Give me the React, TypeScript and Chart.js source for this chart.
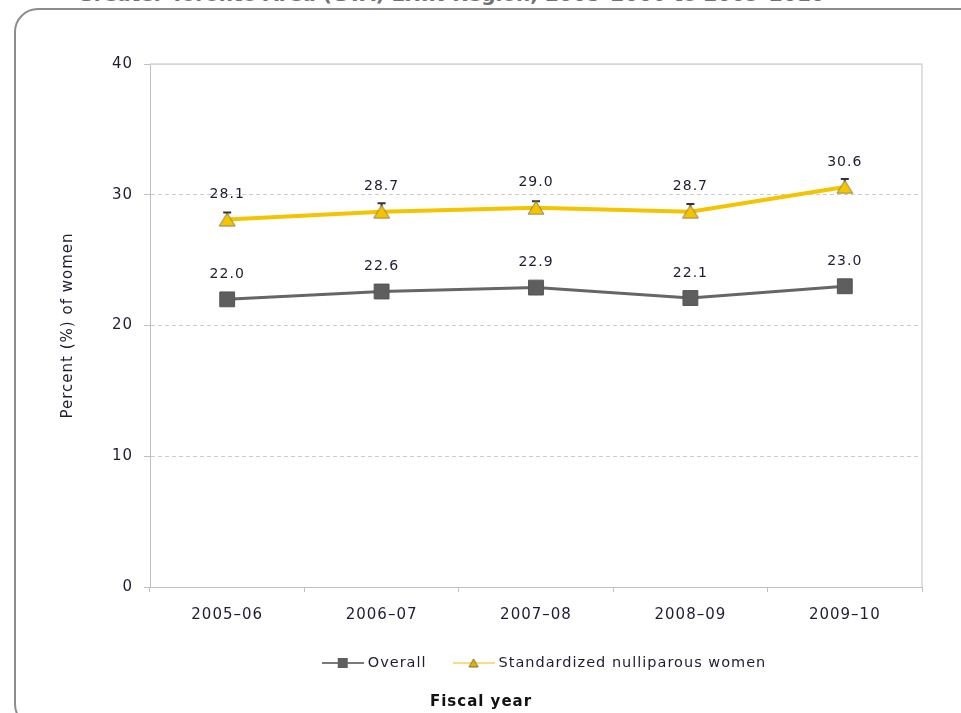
import React, { useEffect, useRef } from 'react';
import { Chart, registerables } from 'chart.js';

Chart.register(...registerables);

const chartTitle = 'Greater Toronto Area (GTA) LHIN Region, 2005–2006 to 2009–2010';
const categories = ['2005–06', '2006–07', '2007–08', '2008–09', '2009–10'];
const overall = [22.0, 22.6, 22.9, 22.1, 23.0];
const standardized = [28.1, 28.7, 29.0, 28.7, 30.6];
const standardizedError = [0.55, 0.65, 0.5, 0.6, 0.6];
const yTicks = [0, 10, 20, 30, 40];
const seriesNames = ['Overall', 'Standardized nulliparous women'];
const xTitle = 'Fiscal year';
const yTitle = 'Percent (%) of women';

const FONT = '"DejaVu Sans", Verdana, sans-serif';
const GREY = '#5e5e5e';
const YELLOW = '#f5c400';
const TEXT = '#1e1e32';

function makeTriangle(w: number, h: number, fill: string, stroke: string) {
  const c = document.createElement('canvas');
  c.width = w + 2;
  c.height = h + 2;
  const g = c.getContext('2d')!;
  g.beginPath();
  g.moveTo(1 + w / 2, 1);
  g.lineTo(1 + w, 1 + h);
  g.lineTo(1, 1 + h);
  g.closePath();
  g.fillStyle = fill;
  g.fill();
  g.strokeStyle = stroke;
  g.lineWidth = 1;
  g.stroke();
  return c;
}

function makeLegendIcon(kind: 'square' | 'triangle') {
  const c = document.createElement('canvas');
  c.width = 42;
  c.height = 14;
  const g = c.getContext('2d')!;
  g.beginPath();
  g.moveTo(0, 7);
  g.lineTo(42, 7);
  g.strokeStyle = kind === 'square' ? '#7a7a7a' : '#f3d35a';
  g.lineWidth = kind === 'square' ? 2 : 1.5;
  g.stroke();
  if (kind === 'square') {
    g.fillStyle = GREY;
    g.fillRect(16, 2, 10, 10);
  } else {
    g.beginPath();
    g.moveTo(21, 3);
    g.lineTo(25.5, 11);
    g.lineTo(16.5, 11);
    g.closePath();
    g.fillStyle = '#e3b400';
    g.fill();
    g.strokeStyle = '#7a6a40';
    g.lineWidth = 1;
    g.stroke();
  }
  return c;
}

export default function App() {
  const ref = useRef<HTMLCanvasElement>(null);

  useEffect(() => {
    const canvas = ref.current!;
    const triangle = makeTriangle(16, 13, YELLOW, '#8a7e5c');
    const legendIcons = [makeLegendIcon('square'), makeLegendIcon('triangle')];

    const spacing = {
      id: 'spacing',
      beforeUpdate(chart: any) {
        chart.ctx.letterSpacing = '1px';
      },
      beforeDraw(chart: any) {
        chart.ctx.letterSpacing = '1px';
      },
      afterLayout(chart: any) {
        const box = chart.titleBlock;
        if (!box) return;
        const d = 467 - (box.left + box.right) / 2;
        box.left += d;
        box.right += d;
      },
    };

    const frame = {
      id: 'frame',
      beforeDatasetsDraw(chart: any) {
        const { ctx, chartArea } = chart;
        ctx.save();
        ctx.strokeStyle = '#d6d6d6';
        ctx.lineWidth = 1.5;
        ctx.beginPath();
        ctx.moveTo(chartArea.left, chartArea.top);
        ctx.lineTo(chartArea.right, chartArea.top);
        ctx.lineTo(chartArea.right, chartArea.bottom);
        ctx.stroke();
        ctx.restore();
      },
    };

    const customLegend = {
      id: 'customLegend',
      afterDraw(chart: any) {
        const { ctx } = chart;
        ctx.save();
        ctx.letterSpacing = '1px';
        ctx.font = `14.5px ${FONT}`;
        ctx.fillStyle = TEXT;
        ctx.textAlign = 'left';
        ctx.textBaseline = 'middle';
        const iconW = 42;
        const gapIcon = 4;
        const gapItem = 26;
        const widths = seriesNames.map((t) => iconW + gapIcon + ctx.measureText(t).width);
        const total = widths.reduce((a, b) => a + b, 0) + gapItem * (seriesNames.length - 1);
        const cy = 653;
        let x = 530 - total / 2;
        seriesNames.forEach((t, i) => {
          const img = legendIcons[i];
          ctx.drawImage(img, x, cy - img.height / 2);
          ctx.fillText(t, x + iconW + gapIcon, cy);
          x += widths[i] + gapItem;
        });
        ctx.restore();
      },
    };

    const errorBars = {
      id: 'errorBars',
      beforeDatasetDraw(chart: any, args: any) {
        if (args.index !== 1) return;
        const { ctx } = chart;
        const y = chart.scales.y;
        const meta = chart.getDatasetMeta(1);
        ctx.save();
        ctx.strokeStyle = '#333333';
        ctx.lineWidth = 2;
        meta.data.forEach((pt: any, i: number) => {
          const v = standardized[i];
          const e = standardizedError[i];
          const yt = y.getPixelForValue(v + e);
          const yb = y.getPixelForValue(v);
          ctx.beginPath();
          ctx.moveTo(pt.x, yt);
          ctx.lineTo(pt.x, yb);
          ctx.moveTo(pt.x - 4, yt);
          ctx.lineTo(pt.x + 4, yt);
          ctx.stroke();
        });
        ctx.restore();
      },
    };

    const dataLabels = {
      id: 'dataLabels',
      afterDatasetsDraw(chart: any) {
        const { ctx } = chart;
        ctx.save();
        ctx.letterSpacing = '1px';
        ctx.font = `14px ${FONT}`;
        ctx.fillStyle = TEXT;
        ctx.textAlign = 'center';
        ctx.textBaseline = 'middle';
        chart.data.datasets.forEach((ds: any, di: number) => {
          const meta = chart.getDatasetMeta(di);
          meta.data.forEach((pt: any, i: number) => {
            ctx.fillText(Number(ds.data[i]).toFixed(1), pt.x, pt.y - 25);
          });
        });
        ctx.restore();
      },
    };

    const chart = new Chart(canvas, {
      type: 'line',
      data: {
        labels: categories,
        datasets: [
          {
            label: seriesNames[0],
            data: overall,
            borderColor: '#666666',
            borderWidth: 3,
            pointStyle: 'rect',
            pointRadius: 10.5,
            pointBackgroundColor: GREY,
            pointBorderColor: '#555555',
            pointBorderWidth: 1,
            tension: 0,
          },
          {
            label: seriesNames[1],
            data: standardized,
            borderColor: YELLOW,
            borderWidth: 4,
            pointStyle: triangle as any,
            pointRadius: 8,
            tension: 0,
          },
        ],
      },
      plugins: [spacing, frame, errorBars, dataLabels, customLegend],
      options: {
        responsive: false,
        animation: false,
        devicePixelRatio: 1,
        layout: { padding: { top: 54, right: 39, left: 0, bottom: 0 } },
        scales: {
          x: {
            offset: true,
            grid: { drawOnChartArea: false, drawTicks: true, tickLength: 5, color: '#c0c0c0', offset: true },
            border: { color: '#c0c0c0', width: 1 },
            ticks: { color: TEXT, font: { family: FONT, size: 15 }, padding: 14, maxRotation: 0 },
            afterFit: (s: any) => {
              s.height = 92;
            },
          },
          y: {
            min: 0,
            max: 40,
            afterBuildTicks: (s: any) => {
              s.ticks = yTicks.map((v) => ({ value: v }));
            },
            grid: {
              color: '#cccccc',
              lineWidth: 1,
              tickLength: 6,
              tickColor: '#c0c0c0',
            },
            border: {
              display: true,
              color: '#c0c0c0',
              width: 1,
              dash: (ctx: any) => (ctx.tick && (ctx.tick.value === 0 || ctx.tick.value === 40) ? [] : [4, 3]),
            },
            ticks: { color: TEXT, font: { family: FONT, size: 15 }, padding: 11 },
            title: {
              display: true,
              text: yTitle,
              color: TEXT,
              font: { family: FONT, size: 15 },
              padding: { top: 45, bottom: 0 },
            },
            afterFit: (s: any) => {
              s.width = 136;
            },
          },
        },
        plugins: {
          legend: { display: false },
          title: {
            display: true,
            position: 'bottom',
            text: xTitle,
            color: '#111111',
            font: { family: FONT, size: 15, weight: 'bold' },
            padding: { top: 14, bottom: 2 },
          },
          tooltip: { enabled: false },
        },
      } as any,
    });
    return () => chart.destroy();
  }, []);

  return (
    <div
      style={{
        position: 'absolute',
        left: 0,
        top: 0,
        width: 961,
        height: 713,
        overflow: 'hidden',
        background: '#ffffff',
      }}
    >
      <div
        style={{
          position: 'absolute',
          left: 0,
          top: -18,
          width: 902,
          textAlign: 'center',
          font: `bold 20px ${FONT}`,
          lineHeight: '24px',
          color: '#727272',
          whiteSpace: 'nowrap',
        }}
      >
        {chartTitle}
      </div>
      <div
        style={{
          position: 'absolute',
          left: 14,
          top: 8,
          width: 1000,
          height: 720,
          border: '2px solid #8c8c8c',
          borderRadius: 24,
          boxSizing: 'border-box',
        }}
      />
      <canvas
        ref={ref}
        width={947}
        height={703}
        style={{ position: 'absolute', left: 14, top: 10, width: 947, height: 703 }}
      />
    </div>
  );
}
